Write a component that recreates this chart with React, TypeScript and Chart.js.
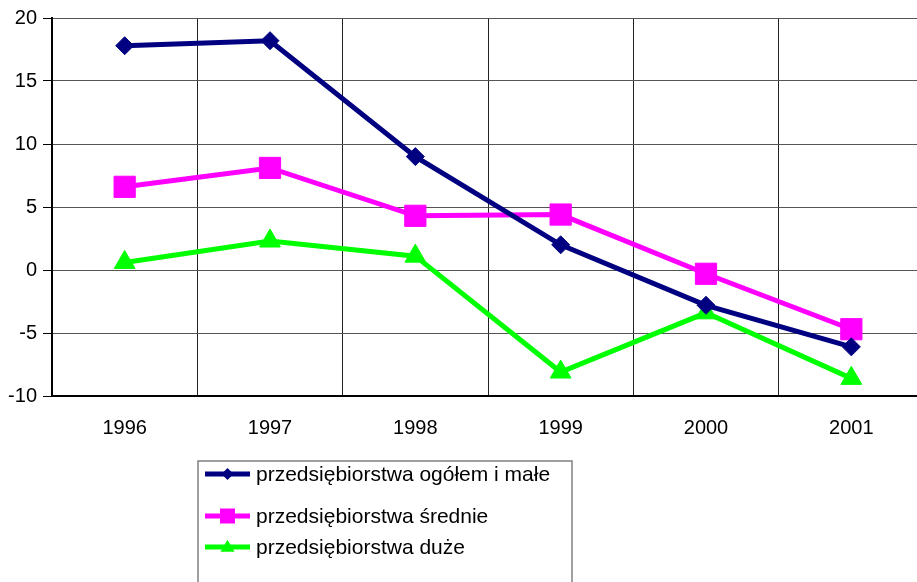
import React, { useEffect, useRef } from "react";
import { Chart, registerables } from "chart.js";

Chart.register(...registerables);

const years = ["1996", "1997", "1998", "1999", "2000", "2001"];
const ogolemIMale = [17.8, 18.2, 9.0, 2.0, -2.8, -6.1];
const srednie = [6.6, 8.1, 4.3, 4.4, -0.3, -4.7];
const duze = [0.6, 2.3, 1.1, -8.1, -3.4, -8.6];
const seriesLabels = [
  "przedsiębiorstwa ogółem i małe",
  "przedsiębiorstwa średnie",
  "przedsiębiorstwa duże",
];
const seriesColors = ["#000080", "#FF00FF", "#00FF00"];
const seriesStyles = ["rectRot", "rect", "triangle"];
const seriesRadii = [9, 15, 12];

const FONT = "'Liberation Sans', Arial, sans-serif";

function drawMarker(ctx: CanvasRenderingContext2D, style: string, x: number, y: number, r: number, color: string) {
  ctx.save();
  ctx.fillStyle = color;
  ctx.beginPath();
  if (style === "rectRot") {
    ctx.moveTo(x, y - r);
    ctx.lineTo(x + r, y);
    ctx.lineTo(x, y + r);
    ctx.lineTo(x - r, y);
  } else if (style === "rect") {
    ctx.rect(x - r, y - r, 2 * r, 2 * r);
  } else {
    const h = r * 1.7;
    ctx.moveTo(x, y - h * 0.6);
    ctx.lineTo(x + r, y + h * 0.4);
    ctx.lineTo(x - r, y + h * 0.4);
  }
  ctx.closePath();
  ctx.fill();
  ctx.restore();
}

const legendPlugin = {
  id: "customLegend",
  afterDraw(chart: any) {
    const ctx: CanvasRenderingContext2D = chart.ctx;
    const boxX = 198;
    const boxY = 461;
    const boxW = 374;
    const boxH = 200;
    const rowsY = [474, 516, 547];
    const markerR = [6, 7.5, 7];
    ctx.save();
    ctx.strokeStyle = "#808080";
    ctx.lineWidth = 1.5;
    ctx.strokeRect(boxX, boxY, boxW, boxH);
    chart.data.datasets.forEach((ds: any, i: number) => {
      const y = rowsY[i];
      ctx.strokeStyle = ds.borderColor;
      ctx.lineWidth = 5;
      ctx.beginPath();
      ctx.moveTo(205, y);
      ctx.lineTo(250, y);
      ctx.stroke();
      drawMarker(ctx, seriesStyles[i], 227.5, y, markerR[i], ds.borderColor);
      ctx.fillStyle = "#000";
      ctx.font = `21px ${FONT}`;
      ctx.textBaseline = "middle";
      ctx.textAlign = "left";
      ctx.fillText(ds.label, 256, y + 1);
    });
    ctx.restore();
  },
};

export default function App() {
  const ref = useRef<HTMLCanvasElement | null>(null);
  useEffect(() => {
    if (!ref.current) return;
    const data = [ogolemIMale, srednie, duze];
    const chart = new Chart(ref.current, {
      type: "line",
      data: {
        labels: years,
        datasets: data.map((d, i) => ({
          label: seriesLabels[i],
          data: d,
          borderColor: seriesColors[i],
          backgroundColor: seriesColors[i],
          borderWidth: 5,
          pointStyle: seriesStyles[i] as any,
          pointRadius: seriesRadii[i],
          pointBorderWidth: 1,
          pointBorderColor: seriesColors[i],
          pointBackgroundColor: seriesColors[i],
          tension: 0,
          fill: false,
        })),
      },
      options: {
        animation: false,
        responsive: false,
        maintainAspectRatio: false,
        layout: { padding: { top: 17, left: 0, right: 0, bottom: 0 } },
        plugins: { legend: { display: false }, tooltip: { enabled: false } },
        scales: {
          x: {
            type: "category",
            offset: true,
            grid: {
              offset: true,
              color: "#222",
              lineWidth: 1,
              drawTicks: false,
            },
            border: { display: true, color: "#000", width: 2 },
            ticks: {
              padding: 20,
              color: "#000",
              font: { family: FONT, size: 20 },
              maxRotation: 0,
            },
            afterFit(scale: any) {
              scale.height = 204;
            },
          },
          y: {
            min: -10,
            max: 20,
            grid: {
              color: "#555",
              lineWidth: 1,
              drawTicks: true,
              tickLength: 9,
              tickColor: "#000",
            },
            border: { display: true, color: "#000", width: 2 },
            ticks: {
              stepSize: 5,
              padding: 6,
              color: "#000",
              font: { family: FONT, size: 20 },
            },
            afterFit(scale: any) {
              scale.width = 52;
            },
          },
        },
      },
      plugins: [legendPlugin],
    });
    return () => chart.destroy();
  }, []);
  return (
    <div
      style={{
        position: "fixed",
        left: 0,
        top: 0,
        width: 917,
        height: 582,
        overflow: "hidden",
        background: "#fff",
      }}
    >
      <canvas ref={ref} width={940} height={600} style={{ display: "block" }} />
    </div>
  );
}
